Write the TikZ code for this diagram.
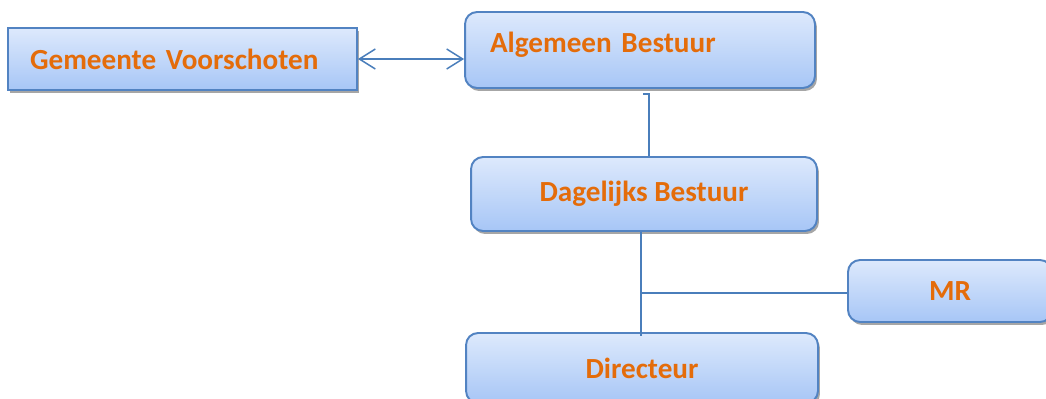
\documentclass[tikz,border=0pt]{standalone}
\usepackage{fontspec}
\setmainfont{Carlito}
\usepackage{xcolor}
\usetikzlibrary{arrows.meta,positioning,shadows,calc}
\definecolor{BoxTop}{HTML}{DDE9FC}
\definecolor{BoxBot}{HTML}{A7C6F6}
\definecolor{BoxLine}{HTML}{5283C2}
\definecolor{LinkBlue}{HTML}{4A7EBB}
\definecolor{TxtOrange}{HTML}{E46C0A}

\tikzset{
  orgbox/.style={draw=BoxLine, line width=1.1pt, top color=BoxTop, bottom color=BoxBot,
    rounded corners=0.24cm, font=\fontsize{16.6}{20}\selectfont\bfseries, text=TxtOrange,
    drop shadow={shadow xshift=0.04cm, shadow yshift=-0.06cm, fill=black, opacity=0.35}},
  link/.style={draw=LinkBlue, line width=0.85pt}
}

\begin{document}
\begin{tikzpicture}[x=0.02cm,y=-0.02cm]
        \useasboundingbox (0,0) rectangle (1046,399);
        % bestuur
        \node[orgbox, rounded corners=0pt, minimum width=6.98cm, minimum height=1.24cm,
              inner xsep=0.44cm, text width=6.1cm, align=left] (gem) at (182.5,59) {Gemeente Voorschoten};
        \node[orgbox, minimum width=7cm, minimum height=1.52cm, inner xsep=0.5cm,
              text width=6cm, align=left, text depth=0.32cm] (ab) at (640,50) {Algemeen Bestuur};
        \node[orgbox, minimum width=6.92cm, minimum height=1.48cm] (db) at (644,194) {Dagelijks Bestuur};
        % medezeggenschap en directie
        \node[orgbox, minimum width=4.08cm, minimum height=1.24cm] (mr) at (950,291) {MR};
        \node[orgbox, minimum width=7.04cm, minimum height=1.4cm] (dir) at (642,368) {Directeur};
        % lijnen
        \draw[link, {Straight Barb[length=0.32cm,width=0.4cm]}-{Straight Barb[length=0.32cm,width=0.4cm]}]
          (gem.east) -- (gem.east -| ab.west);
        \coordinate (k) at (643,94);
        \draw[link] (k) -| ([xshift=0.1cm]db.north);
        \coordinate (j) at (641,293);
        \draw[link] (db.south -| j) -- ([yshift=-0.08cm]dir.north -| j);
        \draw[link] (j) -- (j -| mr.west);
      \end{tikzpicture}
\end{document}
